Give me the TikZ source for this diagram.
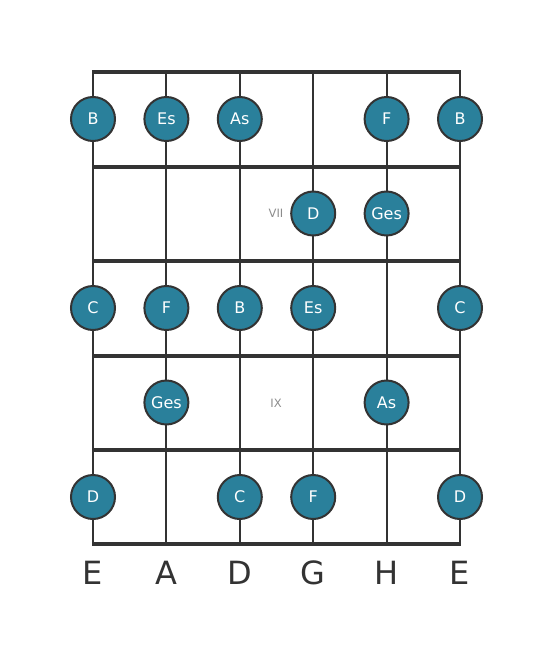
\documentclass[tikz,border=0pt]{standalone}
\usepackage{fontspec}
\setmainfont{DejaVu Sans}
\definecolor{notefill}{RGB}{42,128,155}
\definecolor{linegray}{RGB}{51,51,51}
\definecolor{fretlab}{RGB}{140,140,140}
\tikzset{
  note/.style={circle, draw=linegray, line width=2pt, fill=notefill, minimum size=44pt, inner sep=0pt, text=white, font=\fontsize{16}{16}\selectfont},
  fretline/.style={draw=linegray, line width=4pt},
  stringline/.style={draw=linegray, line width=2pt},
  fretnum/.style={text=fretlab, font=\fontsize{11.5}{11.5}\selectfont},
  strlabel/.style={text=linegray, font=\fontsize{32}{32}\selectfont, inner sep=0pt}
}
\begin{document}
\begin{tikzpicture}[x=1pt,y=-1pt]
\useasboundingbox (0,0) rectangle (553,656);
% strings
\foreach \i/\x in {1/93,2/166.4,3/239.8,4/313.2,5/386.6,6/460}{
  \coordinate (st\i) at (\x,72);
  \coordinate (sb\i) at (\x,544);
  \draw[stringline] (st\i) -- (sb\i);
}
% frets
\foreach \j/\y in {0/72,1/166.5,2/261,3/355.5,4/450,5/544}{
  \coordinate (fl\j) at (92,\y);
  \coordinate (fr\j) at (461,\y);
  \draw[fretline] (fl\j) -- (fr\j);
}
% row 1
\node[note] (n1a) at (93,119) {B};
\node[note] (n1b) at (166.4,119) {Es};
\node[note] (n1c) at (239.8,119) {As};
\node[note] (n1d) at (386.6,119) {F};
\node[note] (n1e) at (460,119) {B};
% row 2
\node[fretnum] (f7) at (276,213.5) {VII};
\node[note] (n2a) at (313.2,213.5) {D};
\node[note] (n2b) at (386.6,213.5) {Ges};
% row 3
\node[note] (n3a) at (93,308) {C};
\node[note] (n3b) at (166.4,308) {F};
\node[note] (n3c) at (239.8,308) {B};
\node[note] (n3d) at (313.2,308) {Es};
\node[note] (n3e) at (460,308) {C};
% row 4
\node[note] (n4a) at (166.4,402.5) {Ges};
\node[fretnum] (f9) at (276,403.5) {IX};
\node[note] (n4b) at (386.6,402.5) {As};
% row 5
\node[note] (n5a) at (93,497) {D};
\node[note] (n5b) at (239.8,497) {C};
\node[note] (n5c) at (313.2,497) {F};
\node[note] (n5d) at (460,497) {D};
% string labels
\node[strlabel] (l1) at (93,573) {E};
\node[strlabel] (l2) at (166.4,573) {A};
\node[strlabel] (l3) at (239.8,573) {D};
\node[strlabel] (l4) at (313.2,573) {G};
\node[strlabel] (l5) at (386.6,573) {H};
\node[strlabel] (l6) at (460,573) {E};
\end{tikzpicture}
\end{document}
